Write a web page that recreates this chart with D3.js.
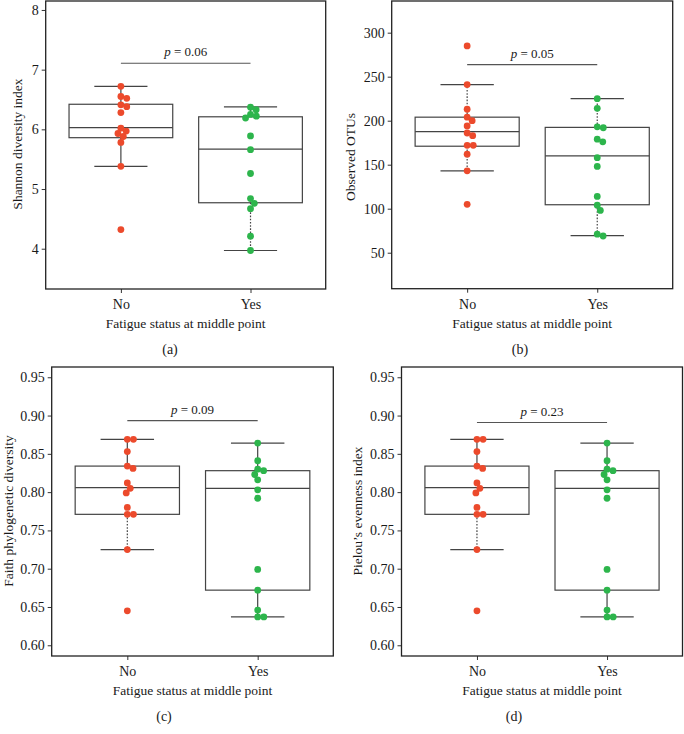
<!DOCTYPE html>
<html>
<head>
<meta charset="utf-8">
<script src="https://cdn.jsdelivr.net/npm/d3@7"></script>
<style>
  body { margin: 0; background: #fff; }
  svg text { font-family: "Liberation Serif", "DejaVu Serif", serif; fill: #1a1a1a; }
</style>
</head>
<body>
<svg width="684" height="734" font-family="Liberation Serif, serif"></svg>
<script>
const categories = ["No", "Yes"];

// (a) Shannon diversity
const shannonNo = [6.72, 6.55, 6.52, 6.41, 6.38, 6.28, 6.02, 5.97, 5.93, 5.88, 5.78, 5.38, 4.32];
const shannonYes = [6.37, 6.33, 6.25, 6.22, 6.19, 5.89, 5.66, 5.26, 4.84, 4.76, 4.67, 4.21, 3.97];
// whisker low, q1, median, q3, whisker high
const shannonBoxNo = [5.38, 5.86, 6.03, 6.42, 6.72];
const shannonBoxYes = [3.97, 4.77, 5.67, 6.21, 6.375];
const shannonTicks = [4, 5, 6, 7, 8];
const shannonP = "0.06";

// (b) observed OTUs
const otusNo = [285, 241, 213, 204, 200, 194, 186, 183, 172, 172, 162, 143, 105];
const otusYes = [225, 214, 193, 192, 179, 176, 158, 148, 114, 104, 98, 71, 69];
const otusBoxNo = [143, 171, 187.5, 204, 241];
const otusBoxYes = [69.5, 104.5, 160, 192.4, 225];
const otusTicks = [50, 100, 150, 200, 250, 300];
const otusP = "0.05";

// (c) Faith phylogenetic diversity
const faithNo = [0.869, 0.869, 0.853, 0.834, 0.831, 0.812, 0.805, 0.799, 0.780, 0.771, 0.771, 0.725, 0.645];
const faithYes = [0.864, 0.841, 0.830, 0.828, 0.823, 0.816, 0.803, 0.792, 0.699, 0.672, 0.646, 0.637, 0.637];
const faithBoxNo = [0.725, 0.771, 0.806, 0.834, 0.869];
const faithBoxYes = [0.637, 0.672, 0.805, 0.828, 0.864];
const faithTicks = [0.60, 0.65, 0.70, 0.75, 0.80, 0.85, 0.90, 0.95];
const faithP = "0.09";

// (d) Pielou's evenness
const pielouNo = [0.869, 0.869, 0.853, 0.834, 0.831, 0.812, 0.805, 0.799, 0.780, 0.771, 0.771, 0.725, 0.645];
const pielouYes = [0.864, 0.841, 0.830, 0.828, 0.823, 0.816, 0.803, 0.792, 0.699, 0.672, 0.646, 0.637, 0.637];
const pielouBoxNo = [0.725, 0.771, 0.806, 0.834, 0.869];
const pielouBoxYes = [0.637, 0.672, 0.805, 0.828, 0.864];
const pielouTicks = [0.60, 0.65, 0.70, 0.75, 0.80, 0.85, 0.90, 0.95];
const pielouP = "0.23";

const colors = ["#ec4a2c", "#2db54c"];
const dotR = 3.4;

const panels = [
    { left: 45.7, right: 325.7, top: 1, bottom: 289, domain: [3.325, 8.15], ticks: shannonTicks, fmt: d3.format("d"),
      ylabel: "Shannon diversity index", labelX: 17, labelY: 144, tag: "(a)", tagX: 170,
      values: [shannonNo, shannonYes], boxes: [shannonBoxNo, shannonBoxYes], p: shannonP, pAt: 7.107,
      dotted: [[false, false], [true, false]] },
    { left: 391.7, right: 672.7, top: 1, bottom: 288.7, domain: [9.1, 336], ticks: otusTicks, fmt: d3.format("d"),
      ylabel: "Observed OTUs", labelX: 350, labelY: 157, tag: "(b)", tagX: 520,
      values: [otusNo, otusYes], boxes: [otusBoxNo, otusBoxYes], p: otusP, pAt: 263.6,
      dotted: [[true, true], [true, true]] },
    { left: 51.7, right: 333.3, top: 367, bottom: 656, domain: [0.586, 0.9634], ticks: faithTicks, fmt: d3.format(".2f"),
      ylabel: "Faith phylogenetic diversity", labelX: 8, labelY: 511, tag: "(c)", tagX: 164,
      values: [faithNo, faithYes], boxes: [faithBoxNo, faithBoxYes], p: faithP, pAt: 0.8935,
      dotted: [[true, false], [false, false]] },
    { left: 401.5, right: 682.5, top: 367, bottom: 656, domain: [0.586, 0.9634], ticks: pielouTicks, fmt: d3.format(".2f"),
      ylabel: "Pielou\u2019s evenness index", labelX: 357, labelY: 511, tag: "(d)", tagX: 514,
      values: [pielouNo, pielouYes], boxes: [pielouBoxNo, pielouBoxYes], p: pielouP, pAt: 0.8909,
      dotted: [[true, false], [false, false]] }
];

// simple swarm: each dot goes as close to the centre line as it can without overlap
function swarm(vals, y) {
    const pts = vals.map(v => ({ v: v, py: y(v), dx: 0 }))
        .sort((a, b) => b.v - a.v);
    const placed = [];
    const dia = dotR * 1.8;
    pts.forEach(p => {
        const near = placed.filter(q => Math.abs(q.py - p.py) < dia);
        const cands = [0];
        near.forEach(q => {
            const h = Math.sqrt(dia * dia - (q.py - p.py) ** 2);
            cands.push(q.dx + h, q.dx - h);
        });
        cands.sort((a, b) => Math.abs(a) - Math.abs(b) || b - a);
        for (const c of cands) {
            const ok = near.every(q => (q.dx - c) ** 2 + (q.py - p.py) ** 2 >= dia * dia - 0.01);
            if (ok) { p.dx = c; break; }
        }
        placed.push(p);
    });
    return pts;
}

const svg = d3.select("svg");

panels.forEach(cfg => {
    const g = svg.append("g");
    const x = d3.scalePoint().domain(categories).range([cfg.left, cfg.right]).padding(0.58);
    const y = d3.scaleLinear().domain(cfg.domain).range([cfg.bottom, cfg.top]);
    const step = x.step();
    const boxW = step * 0.8;
    const capW = step * 0.41;

    // y axis
    const yAxis = g.append("g")
        .attr("transform", `translate(${cfg.left},0)`)
        .call(d3.axisLeft(y).tickValues(cfg.ticks).tickFormat(cfg.fmt).tickSize(4).tickPadding(3));
    yAxis.attr("font-family", null).attr("font-size", null);
    yAxis.select(".domain").remove();
    yAxis.selectAll("line").attr("stroke", "#333");
    yAxis.selectAll("text").attr("font-size", 14).attr("fill", "#1a1a1a");

    // x axis
    const xAxis = g.append("g")
        .attr("transform", `translate(0,${cfg.bottom})`)
        .call(d3.axisBottom(x).tickSize(4).tickPadding(6));
    xAxis.attr("font-family", null).attr("font-size", null);
    xAxis.select(".domain").remove();
    xAxis.selectAll("line").attr("stroke", "#333");
    xAxis.selectAll("text").attr("font-size", 14).attr("fill", "#1a1a1a");

    // boxes and whiskers
    categories.forEach((cat, i) => {
        const b = cfg.boxes[i];
        const cx = x(cat);
        const wg = g.append("g").attr("stroke", "#444").attr("stroke-width", 1.2).attr("fill", "none");
        // lower whisker
        wg.append("line")
            .attr("x1", cx).attr("x2", cx).attr("y1", y(b[1])).attr("y2", y(b[0]))
            .attr("stroke-dasharray", cfg.dotted[i][0] ? "1.6,1.6" : null);
        // upper whisker
        wg.append("line")
            .attr("x1", cx).attr("x2", cx).attr("y1", y(b[3])).attr("y2", y(b[4]))
            .attr("stroke-dasharray", cfg.dotted[i][1] ? "1.6,1.6" : null);
        [b[0], b[4]].forEach(v => {
            wg.append("line")
                .attr("x1", cx - capW / 2).attr("x2", cx + capW / 2)
                .attr("y1", y(v)).attr("y2", y(v));
        });
        wg.append("rect")
            .attr("x", cx - boxW / 2).attr("width", boxW)
            .attr("y", y(b[3])).attr("height", y(b[1]) - y(b[3]));
        wg.append("line")
            .attr("x1", cx - boxW / 2).attr("x2", cx + boxW / 2)
            .attr("y1", y(b[2])).attr("y2", y(b[2]));
    });

    // dots
    categories.forEach((cat, i) => {
        g.append("g").selectAll("circle")
            .data(swarm(cfg.values[i], y))
            .enter()
            .append("circle")
            .attr("cx", d => x(cat) + d.dx)
            .attr("cy", d => d.py)
            .attr("r", dotR)
            .attr("fill", colors[i]);
    });

    // significance bar
    const py = y(cfg.pAt);
    g.append("line")
        .attr("x1", x(categories[0])).attr("x2", x(categories[1]))
        .attr("y1", py).attr("y2", py)
        .attr("stroke", "#555").attr("stroke-width", 1.2);
    const pt = g.append("text")
        .attr("x", (x(categories[0]) + x(categories[1])) / 2)
        .attr("y", py - 7)
        .attr("text-anchor", "middle")
        .attr("font-size", 13);
    pt.append("tspan").attr("font-style", "italic").text("p");
    pt.append("tspan").text(" = " + cfg.p);

    // frame
    g.append("rect")
        .attr("x", cfg.left).attr("y", cfg.top)
        .attr("width", cfg.right - cfg.left).attr("height", cfg.bottom - cfg.top)
        .attr("fill", "none").attr("stroke", "#222").attr("stroke-width", 1.3);

    // titles
    g.append("text")
        .attr("transform", `translate(${cfg.labelX},${cfg.labelY}) rotate(-90)`)
        .attr("text-anchor", "middle")
        .attr("dy", "0.35em")
        .attr("font-size", 13.5)
        .text(cfg.ylabel);
    g.append("text")
        .attr("x", (cfg.left + cfg.right) / 2)
        .attr("y", cfg.bottom + 39)
        .attr("text-anchor", "middle")
        .attr("font-size", 13.5)
        .text("Fatigue status at middle point");
    g.append("text")
        .attr("x", cfg.tagX)
        .attr("y", cfg.bottom + 65)
        .attr("text-anchor", "middle")
        .attr("font-size", 14)
        .text(cfg.tag);
});
</script>
</body>
</html>
